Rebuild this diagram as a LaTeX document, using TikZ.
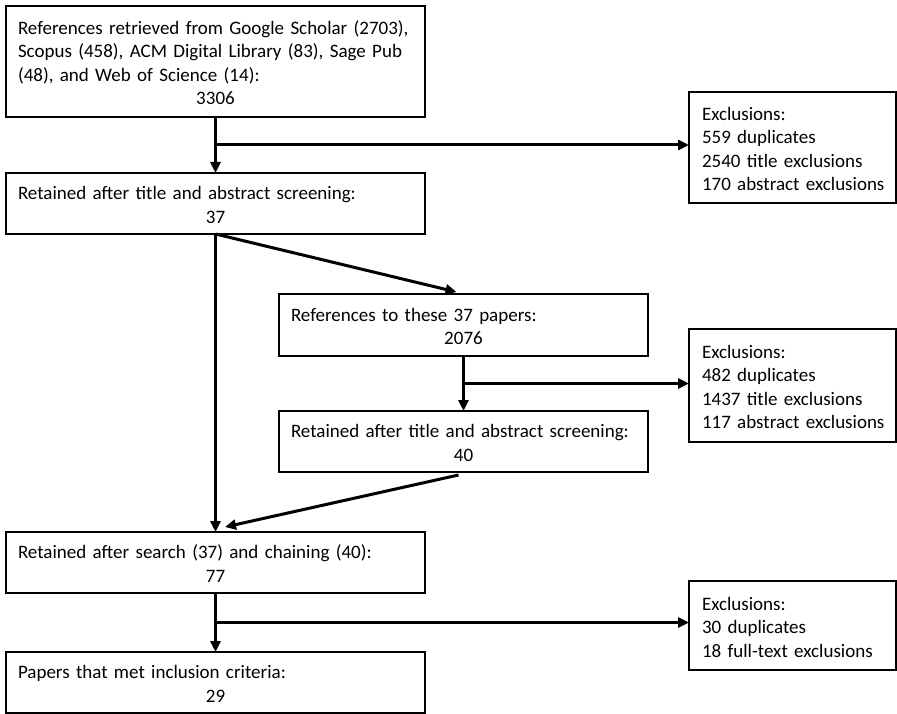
\documentclass[tikz,border=0pt]{standalone}
\usepackage{fontspec}
\setmainfont{Carlito}
\usetikzlibrary{arrows.meta,calc}
\newcommand{\rowtxt}[1]{\par\noindent\hbox{\strut #1}\par}
\newcommand{\rownum}[1]{\par\noindent\hbox to \hsize{\strut\hfil #1\hfil}\par}
\tikzset{
  box/.style={draw, line width=1.6pt, inner xsep=12pt, inner ysep=0pt, outer sep=0pt,
    anchor=north west, font=\fontsize{19}{23.5}\selectfont},
  wbox/.style={box, minimum width=419pt, text width=395pt},
  mbox/.style={box, minimum width=369pt, text width=345pt},
  xbox/.style={box, inner xsep=13pt, minimum width=207pt, text width=181pt},
  arr/.style={line width=3pt, -{Triangle[length=11pt,width=10pt]}}
}
\begin{document}
\begin{tikzpicture}[x=1pt,y=-1pt]
\useasboundingbox (0,0) rectangle (897,714);
\node[wbox, minimum height=111pt] (b1) at (6,6) {\rowtxt{References retrieved from Google Scholar (2703),}\rowtxt{Scopus (458), ACM Digital Library (83), Sage Pub}\rowtxt{(48), and Web of Science (14):}\rownum{3306}};
\node[wbox, minimum height=61pt] (b2) at (6,173) {\rowtxt{Retained after title and abstract screening:}\rownum{37}};
\node[xbox, minimum height=111pt] (e1) at (689,92) {\rowtxt{Exclusions:}\rowtxt{559 duplicates}\rowtxt{2540 title exclusions}\rowtxt{170 abstract exclusions}};
\node[mbox, minimum height=62pt] (b3) at (279,294) {\rowtxt{References to these 37 papers:}\rownum{2076}};
\node[mbox, minimum height=61pt] (b4) at (279,411) {\rowtxt{Retained after title and abstract screening:}\rownum{40}};
\node[xbox, minimum height=113pt] (e2) at (689,329) {\rowtxt{Exclusions:}\rowtxt{482 duplicates}\rowtxt{1437 title exclusions}\rowtxt{117 abstract exclusions}};
\node[wbox, minimum height=61pt] (b5) at (6,532) {\rowtxt{Retained after search (37) and chaining (40):}\rownum{77}};
\node[xbox, minimum height=89pt] (e3) at (689,581) {\rowtxt{Exclusions:}\rowtxt{30 duplicates}\rowtxt{18 full-text exclusions}};
\node[wbox, minimum height=61pt] (b6) at (6,652) {\rowtxt{Papers that met inclusion criteria:}\rownum{29}};

\coordinate (j1) at ($(b1.south)!0.5!(b2.north)$);
\coordinate (j2) at ($(b3.south)!0.5!(b4.north)$);
\coordinate (j3) at ($(b5.south)!0.5!(b6.north)$);

\draw[arr] (b1.south) -- (b2.north);
\draw[arr] (j1) -- (j1 -| e1.west);
\draw[arr] (b2.south) -- (b5.north);
\draw[arr] (b2.south) -- ([xshift=-7pt,yshift=2pt]b3.north);
\draw[arr] (b3.south) -- (b4.north);
\draw[arr] (j2) -- (j2 -| e2.west);
\draw[arr] ([xshift=-5pt,yshift=-3pt]b4.south) -- ([xshift=9.5pt,yshift=5pt]b5.north);
\draw[arr] (b5.south) -- (b6.north);
\draw[arr] (j3) -- (j3 -| e3.west);
\end{tikzpicture}
\end{document}
